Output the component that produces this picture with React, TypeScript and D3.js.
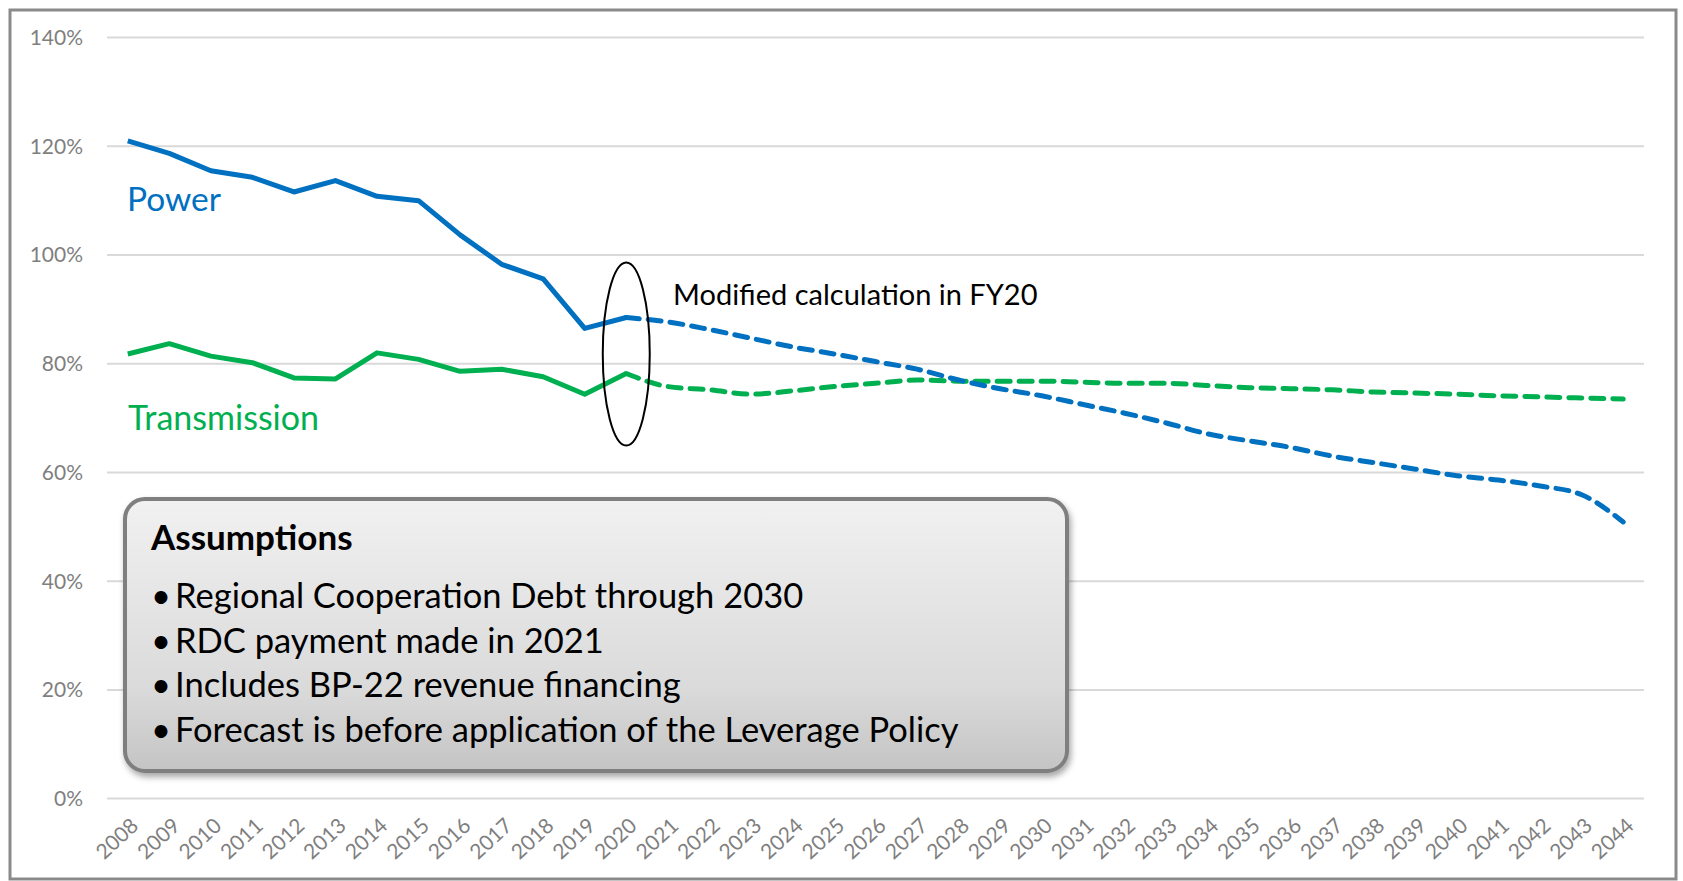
import { useEffect, useRef } from 'react';
import * as d3 from 'd3';

const years = d3.range(2008, 2045).map(String);

// actuals (solid) 2008-2020
const powerActual = [121.0, 118.7, 115.5, 114.3, 111.6, 113.7, 110.8, 110.0, 103.7, 98.3, 95.6, 86.5, 88.5];
const transActual = [81.8, 83.7, 81.4, 80.2, 77.4, 77.2, 82.0, 80.8, 78.6, 79.0, 77.6, 74.4, 78.2];

// forecast (dashed) 2020-2044
const powerForecast = [88.5, 87.7, 86.3, 84.7, 83.1, 81.8, 80.4, 79.0, 77.0, 75.4, 74.1, 72.5, 70.9, 69.1, 67.1, 65.8, 64.6, 63.0, 61.8, 60.6, 59.4, 58.6, 57.5, 55.9, 50.9];
const transForecast = [78.2, 75.8, 75.2, 74.4, 75.0, 75.8, 76.4, 77.0, 76.8, 76.8, 76.8, 76.6, 76.4, 76.4, 76.0, 75.6, 75.4, 75.2, 74.8, 74.6, 74.4, 74.1, 73.9, 73.7, 73.5];

const yTicks = [0, 20, 40, 60, 80, 100, 120, 140];

const assumptions = [
  'Regional Cooperation Debt through 2030',
  'RDC payment made in 2021',
  'Includes BP-22 revenue financing',
  'Forecast is before application of the Leverage Policy',
];

const BLUE = '#0070C0';
const GREEN = '#00B050';
const FONT = 'Lato, "Open Sans", sans-serif';

export default function App() {
  const svgRef = useRef<SVGSVGElement>(null);

  useEffect(() => {
    if (!svgRef.current) return;
    const svg = d3.select(svgRef.current);
    svg.selectAll('*').remove();

    const W = 1683;
    const H = 881;

    const x = d3.scaleBand<string>().domain(years).range([107, 1644]);
    const cx = (yr: string) => (x(yr) ?? 0) + x.bandwidth() / 2;
    const y = d3.scaleLinear().domain([0, 140]).range([798.6, 37.6]);

    const defs = svg.append('defs');
    const grad = defs.append('linearGradient')
      .attr('id', 'boxGrad')
      .attr('x1', 0).attr('y1', 0).attr('x2', 0).attr('y2', 1);
    grad.append('stop').attr('offset', '0%').attr('stop-color', '#f1f1f1');
    grad.append('stop').attr('offset', '70%').attr('stop-color', '#dadada');
    grad.append('stop').attr('offset', '100%').attr('stop-color', '#c4c4c4');

    const shadow = defs.append('filter').attr('id', 'shadow')
      .attr('x', '-5%').attr('y', '-5%').attr('width', '110%').attr('height', '115%');
    shadow.append('feDropShadow')
      .attr('dx', 2).attr('dy', 4).attr('stdDeviation', 3)
      .attr('flood-color', '#000').attr('flood-opacity', 0.35);

    svg.append('rect')
      .attr('width', W).attr('height', H).attr('fill', '#fff');

    // outer frame
    svg.append('rect')
      .attr('x', 10).attr('y', 10)
      .attr('width', 1666).attr('height', 869)
      .attr('fill', 'none')
      .attr('stroke', '#8a8a8a')
      .attr('stroke-width', 3);

    // gridlines + y labels
    const g = svg.append('g');
    g.selectAll('.grid')
      .data(yTicks)
      .join('line')
      .attr('x1', 107).attr('x2', 1644)
      .attr('y1', d => y(d)).attr('y2', d => y(d))
      .attr('stroke', '#d9d9d9')
      .attr('stroke-width', 2);

    g.selectAll('.ylab')
      .data(yTicks)
      .join('text')
      .attr('x', 83)
      .attr('y', d => y(d))
      .attr('dy', '0.35em')
      .attr('text-anchor', 'end')
      .attr('font-family', FONT)
      .attr('font-size', 21)
      .attr('fill', '#7f7f7f')
      .text(d => `${d}%`);

    // x labels
    g.selectAll('.xlab')
      .data(years)
      .join('text')
      .attr('transform', d => `translate(${cx(d) + 7},${822}) rotate(-43)`)
      .attr('dy', '0.35em')
      .attr('text-anchor', 'end')
      .attr('font-family', FONT)
      .attr('font-size', 21)
      .attr('fill', '#7f7f7f')
      .text(d => d);

    const line = d3.line<number>()
      .x((_, i) => cx(years[i]))
      .y(d => y(d));
    const fLine = d3.line<number>()
      .x((_, i) => cx(years[i + 12]))
      .y(d => y(d))
      .curve(d3.curveMonotoneX);

    const series = [
      { a: transActual, f: transForecast, color: GREEN },
      { a: powerActual, f: powerForecast, color: BLUE },
    ];
    series.forEach(s => {
      g.append('path')
        .attr('d', line(s.a))
        .attr('fill', 'none')
        .attr('stroke', s.color)
        .attr('stroke-width', 5)
        .attr('stroke-linejoin', 'round');
      g.append('path')
        .attr('d', fLine(s.f))
        .attr('fill', 'none')
        .attr('stroke', s.color)
        .attr('stroke-width', 5)
        .attr('stroke-dasharray', '13 9')
        .attr('stroke-linecap', 'round');
    });

    // series labels
    g.append('text')
      .attr('x', 127).attr('y', 211)
      .attr('font-family', FONT).attr('font-size', 33.5)
      .attr('fill', BLUE)
      .text('Power');
    g.append('text')
      .attr('x', 128).attr('y', 430)
      .attr('font-family', FONT).attr('font-size', 34)
      .attr('fill', GREEN)
      .text('Transmission');

    // FY20 annotation
    g.append('ellipse')
      .attr('cx', cx('2020')).attr('cy', 354)
      .attr('rx', 23.5).attr('ry', 91.5)
      .attr('fill', 'none')
      .attr('stroke', '#000')
      .attr('stroke-width', 2);
    g.append('text')
      .attr('x', 673).attr('y', 305)
      .attr('font-family', FONT).attr('font-size', 29)
      .attr('fill', '#000')
      .text('Modified calculation in FY20');

    // assumptions box
    const box = svg.append('g');
    box.append('rect')
      .attr('x', 125).attr('y', 499)
      .attr('width', 942).attr('height', 272)
      .attr('rx', 20)
      .attr('fill', 'url(#boxGrad)')
      .attr('stroke', '#7f7f7f')
      .attr('stroke-width', 4)
      .attr('filter', 'url(#shadow)');
    box.append('text')
      .attr('x', 151).attr('y', 550)
      .attr('font-family', FONT).attr('font-size', 35).attr('font-weight', 700)
      .attr('fill', '#000')
      .text('Assumptions');
    assumptions.forEach((t, i) => {
      const by = 608 + i * 44.7;
      box.append('text')
        .attr('x', 151).attr('y', by)
        .attr('font-family', FONT).attr('font-size', 34.5)
        .attr('fill', '#000')
        .text('•');
      box.append('text')
        .attr('x', 175).attr('y', by)
        .attr('font-family', FONT).attr('font-size', 34.5)
        .attr('fill', '#000')
        .text(t);
    });
  }, []);

  return (
    <svg
      ref={svgRef}
      width={1683}
      height={881}
      style={{ position: 'absolute', left: 0, top: 0, display: 'block' }}
    />
  );
}
